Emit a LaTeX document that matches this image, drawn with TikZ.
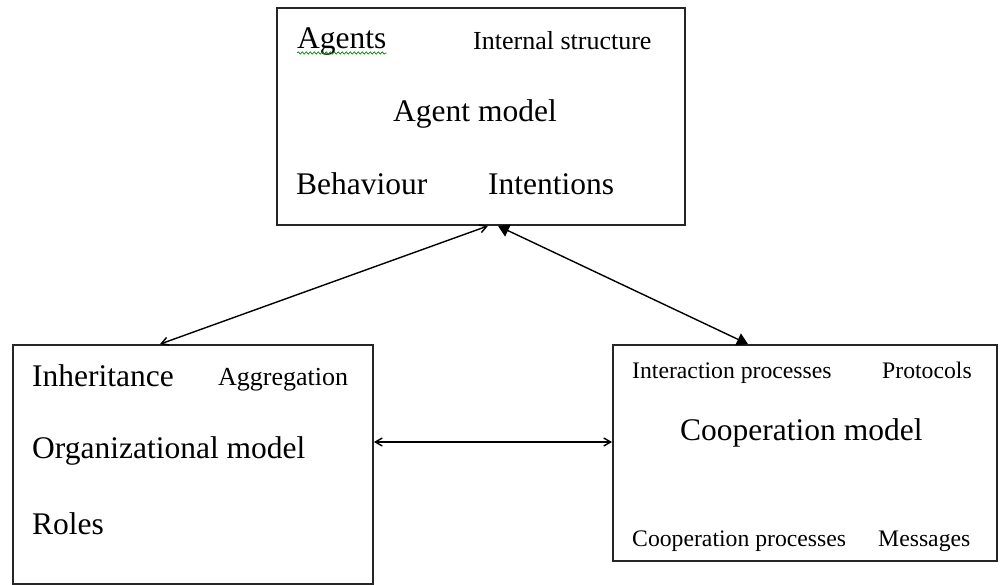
\documentclass[tikz,border=0pt]{standalone}
\usepackage{fontspec}
\setmainfont{Liberation Serif}
\usetikzlibrary{arrows.meta,calc,decorations.pathmorphing}
\begin{document}
\begin{tikzpicture}[x=1pt,y=-1pt,
  modelbox/.style={draw=black!85,line width=1.8pt,rectangle,inner sep=0pt},
  big/.style={font=\fontsize{31.5}{36}\selectfont,inner sep=0pt,anchor=base west},
  mid/.style={font=\fontsize{26}{30}\selectfont,inner sep=0pt,anchor=base west},
  small/.style={font=\fontsize{23.7}{28}\selectfont,inner sep=0pt,anchor=base west},
  thinlink/.style={line width=1.4pt,{Straight Barb[length=7pt,width=8pt]}-{Straight Barb[length=7pt,width=8pt]}},
  boldlink/.style={line width=1.4pt,{Triangle[length=11pt,width=13pt]}-{Triangle[length=11pt,width=13pt]}},
  squiggle/.style={draw=green!55!black,line width=0.7pt,decorate,decoration={snake,amplitude=1.2pt,segment length=4pt}}
]
\useasboundingbox (0,0) rectangle (1003,585);
\fill[white] (0,0) rectangle (1003,585);

% the three models
\node[modelbox,minimum width=408pt,minimum height=217pt] (agent) at (481,116.5) {};
\node[modelbox,minimum width=360pt,minimum height=239pt] (org) at (193,464.5) {};
\node[modelbox,minimum width=384pt,minimum height=216pt] (coop) at (805,453) {};

% agent model contents
\node[big] (agents) at (297,49) {Agents};
\draw[squiggle] ([yshift=3pt]agents.south west) -- ([yshift=3pt]agents.south east);
\node[mid] (internal) at (473,50) {Internal structure};
\node[big] (agentmodel) at (393,122) {Agent model};
\node[big] (behaviour) at (296,195) {Behaviour};
\node[big] (intentions) at (488,195) {Intentions};

% organizational model contents
\node[big] (inherit) at (32,386) {Inheritance};
\node[mid] (aggreg) at (218,385) {Aggregation};
\node[big] (orgmodel) at (32,458) {Organizational model};
\node[big] (roles) at (32,534) {Roles};

% cooperation model contents
\node[small] (interact) at (632,378) {Interaction processes};
\node[small] (protocols) at (882,378) {Protocols};
\node[big] (coopmodel) at (680,440) {Cooperation model};
\node[small] (cooproc) at (632,546) {Cooperation processes};
\node[small] (messages) at (878,546) {Messages};

% connections between models
\coordinate (aL) at ([xshift=7pt]agent.south);
\coordinate (aR) at ([xshift=17pt]agent.south);
\coordinate (oT) at ([xshift=-33pt]org.north);
\coordinate (cT) at ([xshift=-57pt]coop.north);
\draw[thinlink] (aL) -- (oT);
\draw[boldlink] (aR) -- (cT);
\draw[thinlink] (org.east |- 0,442) -- (coop.west |- 0,442);
\end{tikzpicture}
\end{document}
